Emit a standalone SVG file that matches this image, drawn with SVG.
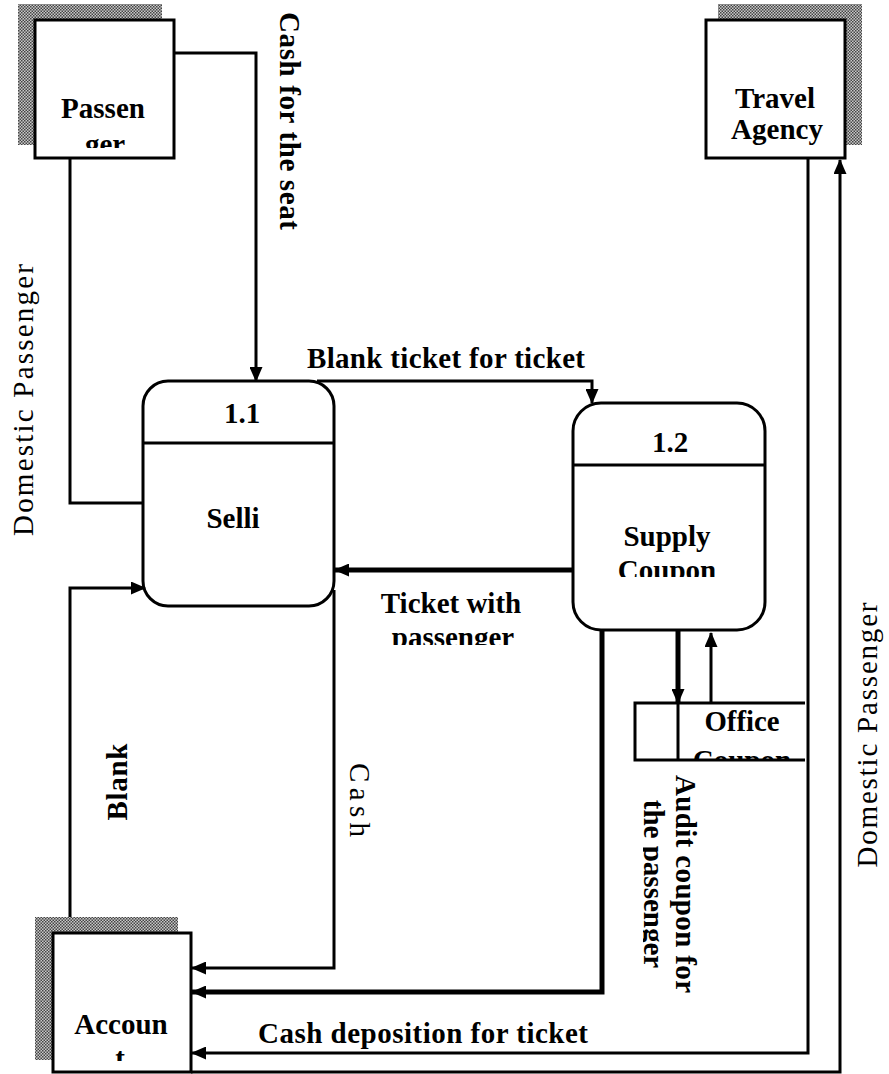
<svg xmlns="http://www.w3.org/2000/svg" width="889" height="1074" viewBox="0 0 889 1074">
<style>
.box{fill:#fff;stroke:#000;stroke-width:3}
.shadow{fill:url(#hatch)}
.ln{fill:none;stroke:#000;stroke-width:3}
.thick{fill:none;stroke:#000;stroke-width:5}
text{font-family:"Liberation Serif","Times New Roman",serif;font-size:29px;fill:#000}
.b{font-weight:bold}
.c{text-anchor:middle}
</style>
<defs>
<pattern id="hatch" width="3" height="3" patternUnits="userSpaceOnUse">
<rect width="3" height="3" fill="#c8c8c8"/>
<rect width="1.5" height="1.5" fill="#444"/>
<rect x="1.5" y="1.5" width="1.5" height="1.5" fill="#444"/>
</pattern>
<marker id="arr" markerUnits="userSpaceOnUse" markerWidth="15" markerHeight="13" refX="14" refY="6.5" orient="auto">
<path d="M0,0 L15,6.5 L0,13 z" fill="#000"/>
</marker>
<clipPath id="cPass"><rect x="36" y="21" width="137" height="127"/></clipPath>
<clipPath id="cSup"><rect x="575" y="470" width="188" height="107"/></clipPath>
<clipPath id="cTick"><rect x="340" y="580" width="230" height="65"/></clipPath>
<clipPath id="cOff"><rect x="680" y="705" width="124" height="54"/></clipPath>
<clipPath id="cAcc"><rect x="55" y="935" width="134" height="126"/></clipPath>
<clipPath id="cAud"><rect x="643" y="740" width="40" height="280"/></clipPath>
</defs>

<g id="passenger">
<rect class="shadow" x="18" y="4" width="144" height="16"/>
<rect class="shadow" x="18" y="4" width="17" height="141"/>
<rect class="box" x="35" y="20" width="139" height="138"/>
<g clip-path="url(#cPass)">
<text class="b c" x="103" y="118">Passen</text>
<text class="b c" x="105" y="154">ger</text>
</g>
</g>

<g id="travel-agency">
<rect class="shadow" x="718" y="4" width="144" height="16"/>
<rect class="shadow" x="845" y="4" width="17" height="141"/>
<rect class="box" x="706" y="20" width="139" height="138"/>
<text class="b c" x="775" y="108">Travel</text>
<text class="b c" x="777" y="139">Agency</text>
</g>

<g id="account">
<rect class="shadow" x="35" y="917" width="143" height="16"/>
<rect class="shadow" x="35" y="917" width="18" height="143"/>
<rect class="box" x="53" y="933" width="138" height="139"/>
<g clip-path="url(#cAcc)">
<text class="b c" x="121" y="1034">Accoun</text>
<text class="b c" x="120" y="1068">t</text>
</g>
</g>

<g id="process-1-1">
<rect class="box" x="143" y="381" width="191" height="225" rx="25"/>
<line class="ln" x1="143" y1="443" x2="334" y2="443"/>
<text class="b c" x="242" y="423">1.1</text>
<text class="b c" x="233" y="528">Selli</text>
</g>

<g id="process-1-2">
<rect class="box" x="573" y="403" width="192" height="227" rx="28"/>
<line class="ln" x1="573" y1="465" x2="765" y2="465"/>
<text class="b c" x="670" y="452">1.2</text>
<g clip-path="url(#cSup)">
<text class="b c" x="667" y="546">Supply</text>
<text class="b c" x="667" y="580">Coupon</text>
</g>
</g>

<g id="office-coupon">
<path class="ln" d="M805,703 H635 V760 H805"/>
<line class="ln" x1="678" y1="703" x2="678" y2="760"/>
<g clip-path="url(#cOff)">
<text class="b c" x="742" y="731" font-size="27" textLength="75" lengthAdjust="spacingAndGlyphs">Office</text>
<text class="b c" x="742" y="770" font-size="27">Coupon</text>
</g>
</g>

<g id="connectors">
<path class="ln" d="M174,53 H256 V381" marker-end="url(#arr)"/>
<path class="ln" d="M70,158 V503 H143"/>
<path class="ln" d="M317,381 H592 V403" marker-end="url(#arr)"/>
<path class="thick" d="M573,570 H335" marker-end="url(#arr)"/>
<path class="ln" d="M70,917 V588 H145" marker-end="url(#arr)"/>
<path class="ln" d="M334,590 V968 H192" marker-end="url(#arr)"/>
<path class="thick" d="M602,630 V992 H192" marker-end="url(#arr)"/>
<path class="thick" d="M678,630 V703" marker-end="url(#arr)"/>
<path class="ln" d="M711,703 V633" marker-end="url(#arr)"/>
<path class="ln" d="M808,158 V1053 H192" marker-end="url(#arr)"/>
<path class="ln" d="M191,1072 H840 V160" marker-end="url(#arr)"/>
</g>

<g id="labels">
<text class="b" x="307" y="368" textLength="278">Blank ticket for ticket</text>
<text class="b c" x="451" y="613">Ticket with</text>
<g clip-path="url(#cTick)"><text class="b c" x="453" y="647">passenger</text></g>
<text class="b" x="258" y="1043" textLength="330">Cash deposition for ticket</text>
<text class="b c" transform="translate(280,121) rotate(90)" textLength="218">Cash for the seat</text>
<text class="c" transform="translate(33,400) rotate(-90)" textLength="272">Domestic Passenger</text>
<text class="c" transform="translate(877,735) rotate(-90)" textLength="265">Domestic Passenger</text>
<text class="b c" transform="translate(127,782) rotate(-90)" textLength="77">Blank</text>
<text class="c" transform="translate(350,800) rotate(90)" textLength="74">Cash</text>
<text class="b c" transform="translate(676,884) rotate(90)" textLength="218">Audit coupon for</text>
<g clip-path="url(#cAud)"><text class="b c" transform="translate(644,884) rotate(90)">the passenger</text></g>
</g>
</svg>
